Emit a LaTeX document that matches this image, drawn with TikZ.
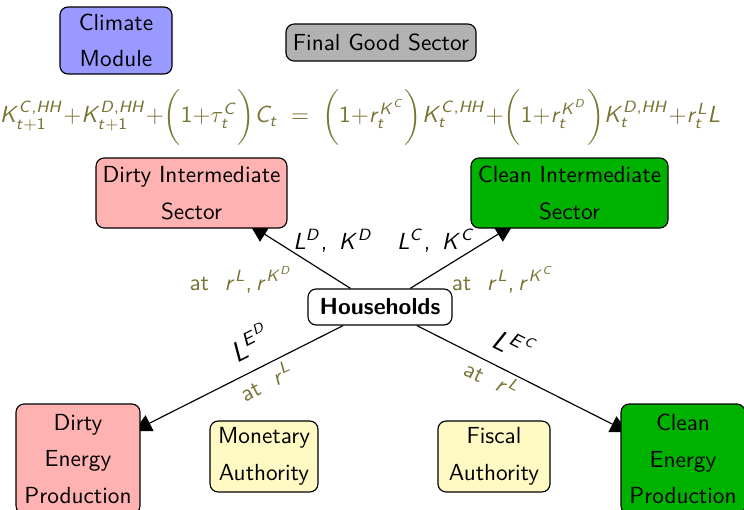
\documentclass[tikz,border=0pt]{standalone}
\usetikzlibrary{arrows.meta}
% sans-serif math letters and figures
\DeclareSymbolFont{sfletters}{OT1}{cmss}{m}{sl}
\DeclareSymbolFont{sfupright}{OT1}{cmss}{m}{n}
\DeclareMathSymbol{C}{\mathalpha}{sfletters}{`C}
\DeclareMathSymbol{D}{\mathalpha}{sfletters}{`D}
\DeclareMathSymbol{E}{\mathalpha}{sfletters}{`E}
\DeclareMathSymbol{H}{\mathalpha}{sfletters}{`H}
\DeclareMathSymbol{K}{\mathalpha}{sfletters}{`K}
\DeclareMathSymbol{L}{\mathalpha}{sfletters}{`L}
\DeclareMathSymbol{r}{\mathalpha}{sfletters}{`r}
\DeclareMathSymbol{t}{\mathalpha}{sfletters}{`t}
\DeclareMathSymbol{1}{\mathalpha}{sfupright}{`1}
\DeclareMathSymbol{+}{\mathbin}{sfupright}{`+}
\DeclareMathSymbol{=}{\mathrel}{sfupright}{`=}
\DeclareMathSymbol{,}{\mathpunct}{sfupright}{`,}
\newcommand{\tallstrut}{\rule[-8.5pt]{0pt}{23pt}}
\newcommand{\bigpar}[1]{{\left(\tallstrut#1\right)}}

\definecolor{olivetext}{RGB}{120,116,52}
\definecolor{climblue}{RGB}{153,153,255}
\definecolor{finalgray}{RGB}{178,178,178}
\definecolor{dirtyred}{RGB}{255,178,178}
\definecolor{cleangreen}{RGB}{0,178,0}
\definecolor{authyellow}{RGB}{255,249,196}

\pgfdeclarelayer{background}
\pgfsetlayers{background,main}

\tikzset{
  box/.style={draw, rounded corners=3.5pt, align=center, font=\sffamily,
    inner sep=0pt, line width=0.5pt},
  arr/.style={-{Triangle[length=7.5pt,width=7.5pt]}, line width=0.5pt},
  flowlbl/.style={font=\sffamily, inner sep=0pt},
  pricelbl/.style={font=\sffamily, text=olivetext, inner sep=0pt},
}

\begin{document}
\begin{tikzpicture}[x=0.43pt, y=-0.43pt]
\path[use as bounding box] (0,0) rectangle (744,509);
\clip (0,0) rectangle (744,509);

% sectors and institutions
\node[box, fill=climblue, minimum width=48.2pt, minimum height=28.8pt]
  (climate) at (116,40.5) {Climate\\[3.7pt]Module};
\node[box, fill=finalgray, minimum width=81.7pt, minimum height=15.9pt]
  (final) at (381,42.5) {Final Good Sector};
\node[box, fill=dirtyred, minimum width=82.1pt, minimum height=30.1pt]
  (dint) at (191.5,193) {Dirty Intermediate\\[3.7pt]Sector};
\node[box, fill=cleangreen, minimum width=84.7pt, minimum height=30.1pt]
  (cint) at (569.5,193) {Clean Intermediate\\[3.7pt]Sector};
\node[box, fill=white, minimum width=61.9pt, minimum height=15.5pt, font=\sffamily\bfseries]
  (hh) at (380,307) {Households};
\node[box, fill=dirtyred, minimum width=53.3pt, minimum height=47.3pt]
  (denergy) at (78,459) {Dirty\\[3.7pt]Energy\\[3.7pt]Production};
\node[box, fill=authyellow, minimum width=46.4pt, minimum height=30.5pt]
  (monetary) at (264,456.5) {Monetary\\[3.7pt]Authority};
\node[box, fill=authyellow, minimum width=48.2pt, minimum height=30.5pt]
  (fiscal) at (494,456.5) {Fiscal\\[3.7pt]Authority};
\node[box, fill=cleangreen, minimum width=53.3pt, minimum height=47.3pt]
  (cenergy) at (683,459) {Clean\\[3.7pt]Energy\\[3.7pt]Production};

% household budget constraint
\node[text=olivetext, inner sep=0pt] (budget) at (360,117)
  {$\medmuskip=0mu
    K^{C,HH}_{t+1}+K^{D,HH}_{t+1}+\bigpar{1+\tau^C_t}C_t\;=\;
    \bigpar{1+r^{K^C}_t}K^{C,HH}_t+\bigpar{1+r^{K^D}_t}K^{D,HH}_t+r^L_tL$};

% arrow tips sit under the target boxes
\coordinate (tDI) at (250,225);
\coordinate (tCI) at (513,225);
\coordinate (tDE) at (134,431);
\coordinate (tCE) at (628,432);

\begin{pgfonlayer}{background}
\draw[arr] (hh) -- (tDI);
\draw[arr] (hh) -- (tCI);
\draw[arr] (hh) -- (tDE);
\draw[arr] (hh) -- (tCE);
\end{pgfonlayer}

% flow and price labels
\node[flowlbl] (lkd) at (333,241) {$L^D,\ K^D$};
\node[flowlbl] (lkc) at (436,241) {$L^C,\ K^C$};
\node[pricelbl] (pd) at (241,280) {at~~$r^L, r^{K^D}$};
\node[pricelbl] (pc) at (503,280) {at~~$r^L, r^{K^C}$};
\node[flowlbl, font=\sffamily\large, rotate=26.8] (led) at (250,342) {$L^{E^D}$};
\node[pricelbl, rotate=26.8] (ped) at (266,381) {at~~$r^L$};
\node[flowlbl, font=\sffamily\large, rotate=-26.7] (lec) at (515,344) {$L^{E^C}$};
\node[pricelbl, rotate=-26.7] (pec) at (492,378) {at~~$r^L$};
\end{tikzpicture}
\end{document}
